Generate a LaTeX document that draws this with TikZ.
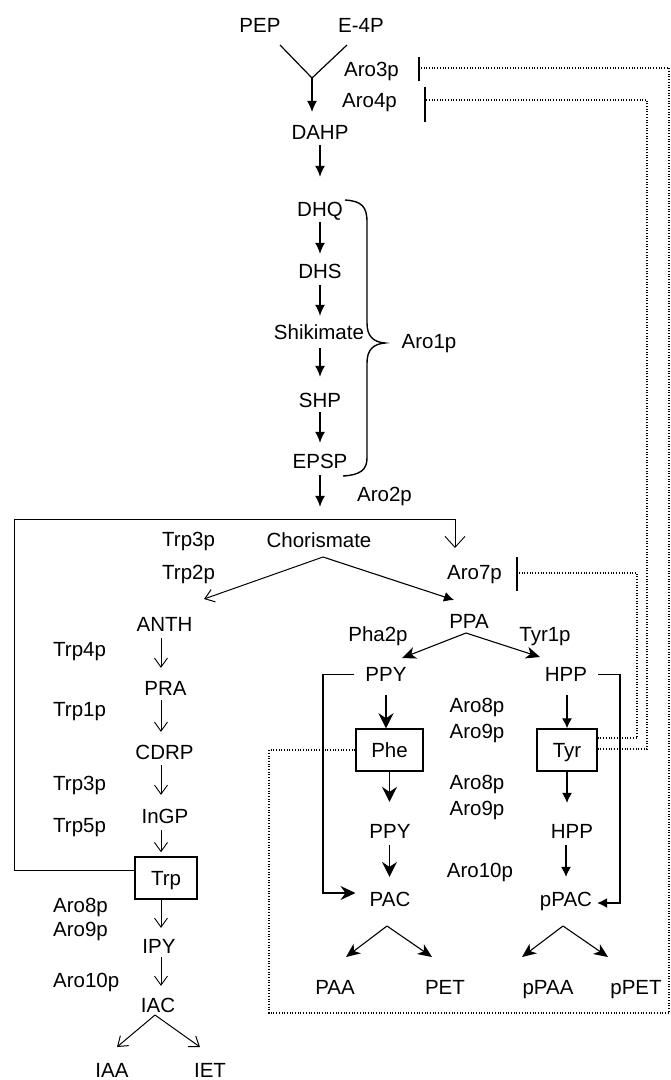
\documentclass[tikz,border=0pt]{standalone}
\usepackage{fontspec}
\setmainfont{Liberation Sans}
\usetikzlibrary{arrows.meta}
\begin{document}
\begin{tikzpicture}[x=1pt,y=-1pt,
  t/.style={font=\fontsize{20.5}{24}\selectfont, inner sep=0pt, text height=14.7pt, text depth=0pt, anchor=center},
  lab/.style={t, anchor=west},
  box/.style={t, draw, line width=1.5pt, minimum height=42pt},
  ln/.style={line width=1.2pt},
  fa/.style={line width=1.3pt, -{Latex[length=11pt,width=10pt]}},
  ta/.style={line width=1.1pt, -{Latex[length=10pt,width=10pt]}},
  sa/.style={line width=1.3pt, -{Stealth[length=15pt,width=15pt,inset=5pt]}},
  ba/.style={line width=1.1pt, -{Stealth[length=14pt,width=12pt,inset=4pt]}},
  oa/.style={line width=0.9pt, -{Straight Barb[length=9pt,width=13pt]}},
  oab/.style={line width=0.9pt, -{Straight Barb[length=11pt,width=20pt]}},
  inh/.style={line width=1.5pt},
  dot/.style={line width=1.1pt, dash pattern=on 1pt off 1.7pt},
]
\useasboundingbox (0,0) rectangle (670,1080);

% ---------- main trunk ----------
\node[t] (PEP) at (260,25) {PEP};
\node[t] (E4P) at (361,25) {E-4P};
\coordinate (V) at (312,78);
\coordinate (Va) at (280,45);
\coordinate (Vb) at (347,45);
\draw[ln] (Va) -- (V) -- (Vb);
\node[t] (Aro3) at (371.5,69) {Aro3p};
\node[t] (Aro4) at (369.5,100) {Aro4p};
\node[t] (DAHP) at (320,132.5) {DAHP};
\draw[fa, shorten >=13pt] (V) -- (V |- DAHP.north);

\node[t] (DHQ) at (320,209) {DHQ};
\node[t] (DHS) at (320,271) {DHS};
\node[t] (Shik) at (319,332) {Shikimate};
\node[t] (SHP) at (320,400) {SHP};
\node[t] (EPSP) at (320,461) {EPSP};
\node[t] (Chor) at (319,540) {Chorismate};

\draw[fa, shorten <=5pt, shorten >=24.6pt] (DAHP.south) -- (DAHP.south |- DHQ.north);
\draw[fa, shorten <=5.6pt, shorten >=9.6pt] (DHQ.south) -- (DHQ.south |- DHS.north);
\draw[fa, shorten <=6.6pt, shorten >=8.6pt] (DHS.south) -- (DHS.south |- Shik.north);
\draw[fa, shorten <=8.6pt, shorten >=15.6pt] (SHP.north |- Shik.south) -- (SHP.north);
\draw[fa, shorten <=4.6pt, shorten >=10.6pt] (SHP.south) -- (SHP.south |- EPSP.north);
\draw[fa, shorten <=6.6pt, shorten >=25.6pt] (EPSP.south) -- (EPSP.south |- Chor.north);

% brace
\node[t] (Aro1) at (429,341) {Aro1p};
\draw[line width=1.4pt] (345,200) .. controls (362,201) and (367,207) .. (367,222) -- (367,323)
  .. controls (367,336) and (373,342) .. (385,343)
  .. controls (373,344) and (367,350) .. (367,363) -- (367,458)
  .. controls (367,470) and (360,475) .. (343,476);

\node[t] (Aro2) at (384.5,494) {Aro2p};

% ---------- chorismate branches ----------
\coordinate (cv) at (323,557);
\coordinate (cl) at (204,599);
\coordinate (cr) at (454,600);
\draw[oa, line width=1pt] (cv) -- (cl);
\draw[ta] (cv) -- (cr);
\node[lab] (Trp3a) at (162,539) {Trp3p};
\node[lab] (Trp2) at (162,572) {Trp2p};

\node[t] (Aro7) at (474.5,572) {Aro7p};
\node[t] (PPA) at (469,621) {PPA};
\node[t] (Pha2) at (378,634) {Pha2p};
\node[t] (Tyr1) at (545,634) {Tyr1p};

\coordinate (pv) at (466,633);
\coordinate (pl) at (402,658);
\coordinate (pr) at (540,657);
\draw[ba] (pv) -- (pl);
\draw[ba] (pv) -- (pr);

% ---------- Phe / Tyr ----------
\node[t] (PPY) at (386,674.5) {PPY};
\node[t] (HPP) at (566,674.5) {HPP};
\node[box, minimum width=67pt] (Phe) at (389.5,750) {Phe};
\node[box, minimum width=60pt] (Tyr) at (567,750) {Tyr};
\node[t] (PPY2) at (390,831) {PPY};
\node[t] (HPP2) at (572,831) {HPP};
\node[t] (PAC) at (390,899) {PAC};
\node[t] (pPAC) at (566,899) {pPAC};

\node[t] (A8a) at (477,705) {Aro8p};
\node[t] (A9a) at (477,731) {Aro9p};
\node[t] (A8b) at (477,782) {Aro8p};
\node[t] (A9b) at (477,808) {Aro9p};
\node[t] (A10a) at (480,870) {Aro10p};

\draw[sa, shorten <=13pt] (PPY.south) -- (PPY.south |- Phe.north);
\draw[sa, shorten >=21.6pt] (Phe.south) -- (Phe.south |- PPY2.north);
\draw[sa, shorten <=6.6pt, shorten >=14.6pt] (Phe.south |- PPY2.south) -- (Phe.south |- PAC.north);
\draw[ta, shorten <=13pt] (Tyr.north |- HPP.south) -- (Tyr.north);
\draw[ta, shorten >=20.6pt] (Tyr.south) -- (Tyr.south |- HPP2.north);
\draw[ta, shorten <=6.6pt, shorten >=14.6pt] (pPAC.north |- HPP2.south) -- (pPAC.north);

\coordinate (bkl) at (323,674.5);
\coordinate (bkr) at (620,674.5);
\draw[ln, -{Stealth[length=15pt,width=14pt,inset=5pt]}] ([xshift=-11pt]PPY.west) -- (bkl) |- ([xshift=-14pt,yshift=6pt]PAC.west);
\draw[ln, -{Latex[length=10pt,width=10pt]}] ([xshift=11pt]HPP.east) -- (bkr) |- ([xshift=5pt,yshift=-4pt]pPAC.east);

\coordinate (av) at (387,926);
\coordinate (al) at (346,957);
\coordinate (ar) at (432,957);
\coordinate (bv) at (563,926);
\coordinate (bl) at (522,957);
\coordinate (br) at (608,957);
\draw[ba] (av) -- (al);
\draw[ba] (av) -- (ar);
\draw[ba] (bv) -- (bl);
\draw[ba] (bv) -- (br);
\node[t] (PAA) at (335,987.5) {PAA};
\node[t] (PET) at (445,987.5) {PET};
\node[t] (pPAA) at (548,987.5) {pPAA};
\node[t] (pPET) at (636,987.5) {pPET};

% ---------- Trp branch ----------
\coordinate (ax) at (161,0);
\node[t] (ANTH) at (164.5,624.5) {ANTH};
\node[t] (PRA) at (165.5,688) {PRA};
\node[t] (CDRP) at (164.5,752) {CDRP};
\node[t] (InGP) at (165,816) {InGP};
\node[box, minimum width=62pt] (Trp) at (166,878) {Trp};
\node[t] (IPY) at (159,946) {IPY};
\node[t] (IAC) at (158,1005) {IAC};

\node[lab] (Trp4) at (53,649.5) {Trp4p};
\node[lab] (Trp1) at (53,709) {Trp1p};
\node[lab] (Trp3b) at (53,783) {Trp3p};
\node[lab] (Trp5) at (53,825.5) {Trp5p};
\node[lab] (A8c) at (53,905.5) {Aro8p};
\node[lab] (A9c) at (53,929.5) {Aro9p};
\node[lab] (A10c) at (53,980.5) {Aro10p};

\draw[oa, shorten <=6pt, shorten >=12.6pt] (ax |- ANTH.south) -- (ax |- PRA.north);
\draw[oa, shorten <=4.6pt, shorten >=12.6pt] (ax |- PRA.south) -- (ax |- CDRP.north);
\draw[oa, shorten <=5.6pt, shorten >=13.6pt] (ax |- CDRP.south) -- (ax |- InGP.north);
\draw[oa, shorten <=6.6pt, shorten >=4pt] (ax |- InGP.south) -- (ax |- Trp.north);
\draw[oa, shorten >=10.6pt] (ax |- Trp.south) -- (ax |- IPY.north);
\draw[oa, shorten <=3.6pt, shorten >=11.6pt] (ax |- IPY.south) -- (ax |- IAC.north);

\coordinate (iv) at (155,1015);
\coordinate (il) at (117,1047);
\coordinate (ir) at (200,1047);
\draw[oa, line width=1pt] (iv) -- (il);
\draw[oa, line width=1pt] (iv) -- (ir);
\node[t] (IAA) at (112,1070) {IAA};
\node[t] (IET) at (210,1070) {IET};

% loop from Trp back to Aro7p
\coordinate (L1) at (14,519);
\coordinate (A7t) at (455,548);
\draw[oab] ([yshift=8pt]Trp.west) -| (L1) -| (A7t);

% ---------- inhibitions ----------
\coordinate (b3) at (419,68);
\coordinate (b4) at (425,100);
\coordinate (b7) at (517,573);
\draw[inh] (419,57) -- (419,81);
\draw[inh] (425,87) -- (425,122);
\draw[inh] (517,557) -- (517,591);

\coordinate (d1) at (269,1013);
\coordinate (d2) at (669,68);
\coordinate (c7) at (637,573);
\coordinate (c4) at (647,100);
\draw[dot] (Phe.west) -| (d1) -| (d2) -- (b3);
\draw[dot] ([yshift=12pt]Tyr.east) -| (c7) -- (b7);
\draw[dot] ([yshift=1pt]Tyr.east) -| (c4) -- (b4);
\end{tikzpicture}
\end{document}
